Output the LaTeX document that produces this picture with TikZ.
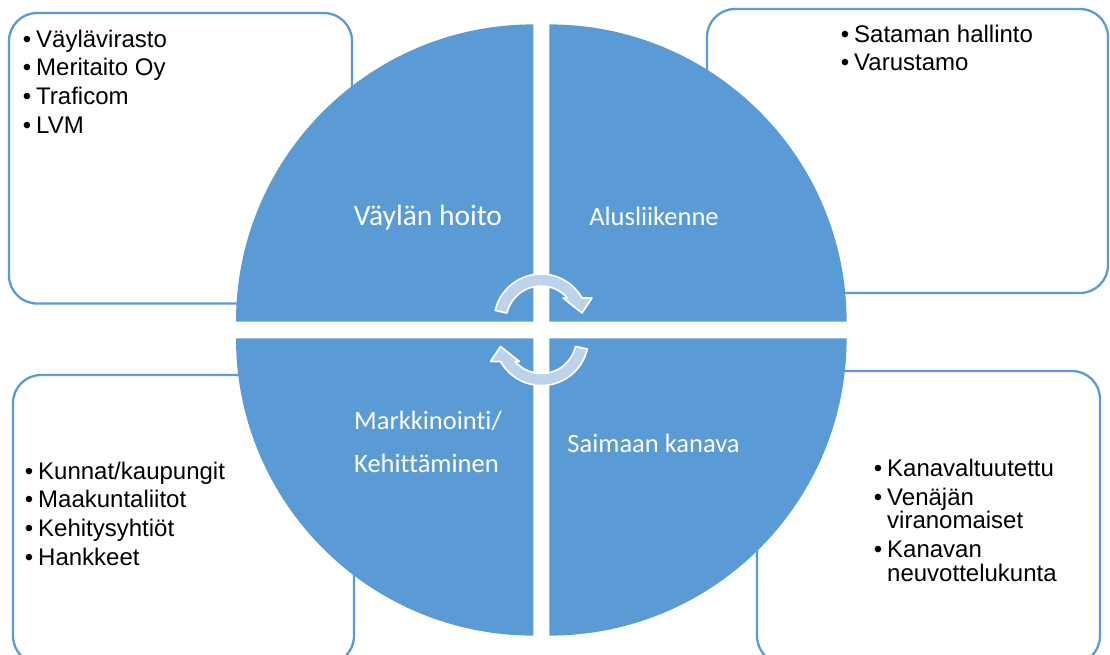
\documentclass[tikz,border=0pt]{standalone}
\usepackage{fontspec}
\setmainfont{Liberation Sans}
\newfontfamily\lblfont[Ligatures={NoCommon,NoDiscretionary,NoRare}]{Carlito}
\definecolor{qblue}{RGB}{91,155,213}
\definecolor{arrowfill}{RGB}{190,210,235}
\newcommand{\itm}[1]{\par\noindent\llap{\textbullet\kern5pt}#1}
\newcommand{\cycarrow}{(167:47) arc[start angle=167,end angle=29.3,radius=47] -- (51,23) -- (41,8) -- (22,23) -- (41.1:35) arc[start angle=41.1,end angle=167,radius=35] -- cycle}
\begin{document}
\begin{tikzpicture}[x=1pt,y=-1pt,
  quad/.style={fill=qblue},
  boxstyle/.style={draw=qblue, line width=2.3pt, rounded corners=28pt, fill=white, inner sep=0pt, rectangle},
  itemtext/.style={anchor=base west, inner sep=0pt, font=\fontsize{24}{23.5}\selectfont},
  lbl/.style={text=white, inner sep=0pt, font=\lblfont\fontsize{26.5}{32}\selectfont},
  cyc/.style={fill=arrowfill, draw=white, line width=1.6pt, line join=round}]
\useasboundingbox (0,0) rectangle (1110,654);
\clip (0,0) rectangle (1110,654);
% boxes
\node[boxstyle, minimum width=343pt, minimum height=290.5pt] (boxTL) at (180.5,158.25) {};
\node[boxstyle, minimum width=401pt, minimum height=284pt] (boxTR) at (907.5,151) {};
\node[boxstyle, minimum width=341pt, minimum height=289pt] (boxBL) at (183.5,519.5) {};
\node[boxstyle, minimum width=343pt, minimum height=293pt] (boxBR) at (928.5,517.5) {};
% quadrants
\fill[quad] (533.3,321.7) -- (236,321.7) arc[start angle=180,end angle=270,radius=297.3] -- cycle;
\fill[quad] (549.3,321.7) -- (549.3,24.4) arc[start angle=270,end angle=360,radius=297.3] -- cycle;
\fill[quad] (549.3,338.3) -- (846.6,338.3) arc[start angle=0,end angle=90,radius=297.3] -- cycle;
\fill[quad] (533.3,338.3) -- (533.3,635.6) arc[start angle=90,end angle=180,radius=297.3] -- cycle;
% item texts
\node[itemtext] (tTL) at (36,47) {\begin{minipage}[t]{300pt}\raggedright\setlength{\parskip}{5.2pt}\itm{Väylävirasto}\itm{Meritaito Oy}\itm{Traficom}\itm{LVM}\end{minipage}};
\node[itemtext] (tTR) at (854,42) {\begin{minipage}[t]{240pt}\raggedright\setlength{\parskip}{5.2pt}\itm{Sataman hallinto}\itm{Varustamo}\end{minipage}};
\node[itemtext] (tBL) at (38,479) {\begin{minipage}[t]{300pt}\raggedright\setlength{\parskip}{5.2pt}\itm{Kunnat/kaupungit}\itm{Maakuntaliitot}\itm{Kehitysyhtiöt}\itm{Hankkeet}\end{minipage}};
\node[itemtext] (tBR) at (887,476) {\begin{minipage}[t]{205pt}\raggedright\setlength{\parskip}{5.5pt}\itm{Kanavaltuutettu}\itm{Venäjän\newline viranomaiset}\itm{Kanavan\newline neuvottelukunta}\end{minipage}};
% quadrant labels
\node[lbl, anchor=base, font=\lblfont\fontsize{29.5}{32}\selectfont] (lVH) at (428,225) {Väylän hoito};
\node[lbl, anchor=base] (lAL) at (654,225) {Alusliikenne};
\node[lbl, anchor=base west] (lMK1) at (354,429) {Markkinointi/};
\node[lbl, anchor=base west] (lMK2) at (354,472) {Kehittäminen};
\node[lbl, anchor=base] (lSK) at (653.5,452) {Saimaan kanava};
% cycle arrows
\begin{scope}[shift={(541,321)}, yscale=-1]
  \filldraw[cyc] \cycarrow;
\end{scope}
\begin{scope}[shift={(541.5,338.5)}, yscale=-1, rotate=180]
  \filldraw[cyc] \cycarrow;
\end{scope}
\end{tikzpicture}
\end{document}
